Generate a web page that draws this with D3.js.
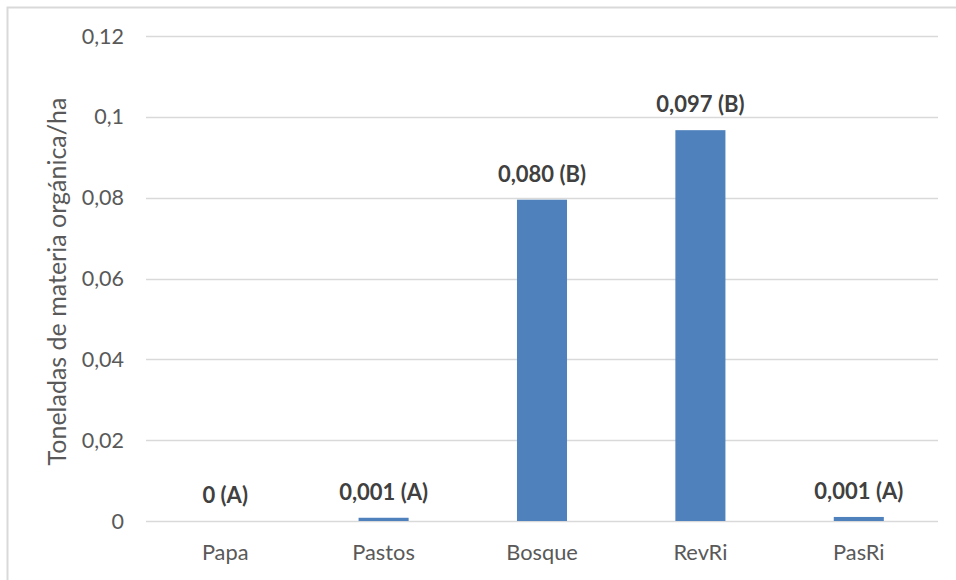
<!DOCTYPE html>
<html>
<head>
<meta charset="utf-8">
<script src="https://cdn.jsdelivr.net/npm/d3@7"></script>
<style>
  body { margin: 0; background: #fff; }
  text { font-family: Lato, "Open Sans", sans-serif; }
</style>
</head>
<body>
<script>
// Data
const categories = ["Papa", "Pastos", "Bosque", "RevRi", "PasRi"];
const values = [0, 0.0008, 0.0795, 0.0967, 0.001];
const labels = ["0 (A)", "0,001 (A)", "0,080 (B)", "0,097 (B)", "0,001 (A)"];
const yTicks = [0, 0.02, 0.04, 0.06, 0.08, 0.1, 0.12];
const yTickLabels = ["0", "0,02", "0,04", "0,06", "0,08", "0,1", "0,12"];

const width = 956, height = 580;
const margin = { top: 36, right: 18, bottom: 59, left: 146 };

const svg = d3.select("body").append("svg")
    .attr("width", width)
    .attr("height", height);

// chart frame (top and left edges visible)
svg.append("path")
    .attr("d", `M7.5,${height} V7.5 H${width}`)
    .attr("fill", "none")
    .attr("stroke", "#d9d9d9")
    .attr("stroke-width", 2);

const x = d3.scaleBand()
    .domain(categories)
    .range([margin.left, width - margin.right])
    .padding(0);

const y = d3.scaleLinear()
    .domain([0, 0.12])
    .range([height - margin.bottom, margin.top]);

const barW = x.bandwidth() * 0.316;

// gridlines
svg.append("g")
    .selectAll("line")
    .data(yTicks)
    .enter().append("line")
    .attr("x1", margin.left)
    .attr("x2", width - margin.right)
    .attr("y1", d => Math.round(y(d)) + 0.5)
    .attr("y2", d => Math.round(y(d)) + 0.5)
    .attr("stroke", "#d9d9d9")
    .attr("stroke-width", 1.5);

// y tick labels
svg.append("g")
    .selectAll("text")
    .data(yTicks)
    .enter().append("text")
    .attr("x", 124)
    .attr("y", d => y(d))
    .attr("dy", "0.35em")
    .attr("text-anchor", "end")
    .attr("fill", "#595959")
    .style("font-size", "21.5px")
    .text((d, i) => yTickLabels[i]);

// bars
svg.append("g")
    .selectAll("rect")
    .data(values)
    .enter().append("rect")
    .attr("x", (d, i) => x(categories[i]) + x.bandwidth() / 2 - barW / 2)
    .attr("y", d => y(d))
    .attr("width", barW)
    .attr("height", d => y(0) - y(d))
    .attr("fill", "#4f81bd");

// value labels
svg.append("g")
    .selectAll("text")
    .data(values)
    .enter().append("text")
    .attr("x", (d, i) => x(categories[i]) + x.bandwidth() / 2)
    .attr("y", d => y(d) - 18)
    .attr("text-anchor", "middle")
    .attr("fill", "#404040")
    .style("font-size", "22px")
    .style("font-weight", "bold")
    .text((d, i) => labels[i]);

// x category labels
svg.append("g")
    .selectAll("text")
    .data(categories)
    .enter().append("text")
    .attr("x", d => x(d) + x.bandwidth() / 2)
    .attr("y", 560)
    .attr("text-anchor", "middle")
    .attr("fill", "#595959")
    .style("font-size", "21.8px")
    .text(d => d);

// y axis title
svg.append("text")
    .attr("transform", `translate(66,${(y(0) + y(0.12)) / 2 + 3}) rotate(-90)`)
    .attr("text-anchor", "middle")
    .attr("fill", "#595959")
    .style("font-size", "25px")
    .text("Toneladas de materia orgánica/ha");
</script>
</body>
</html>
